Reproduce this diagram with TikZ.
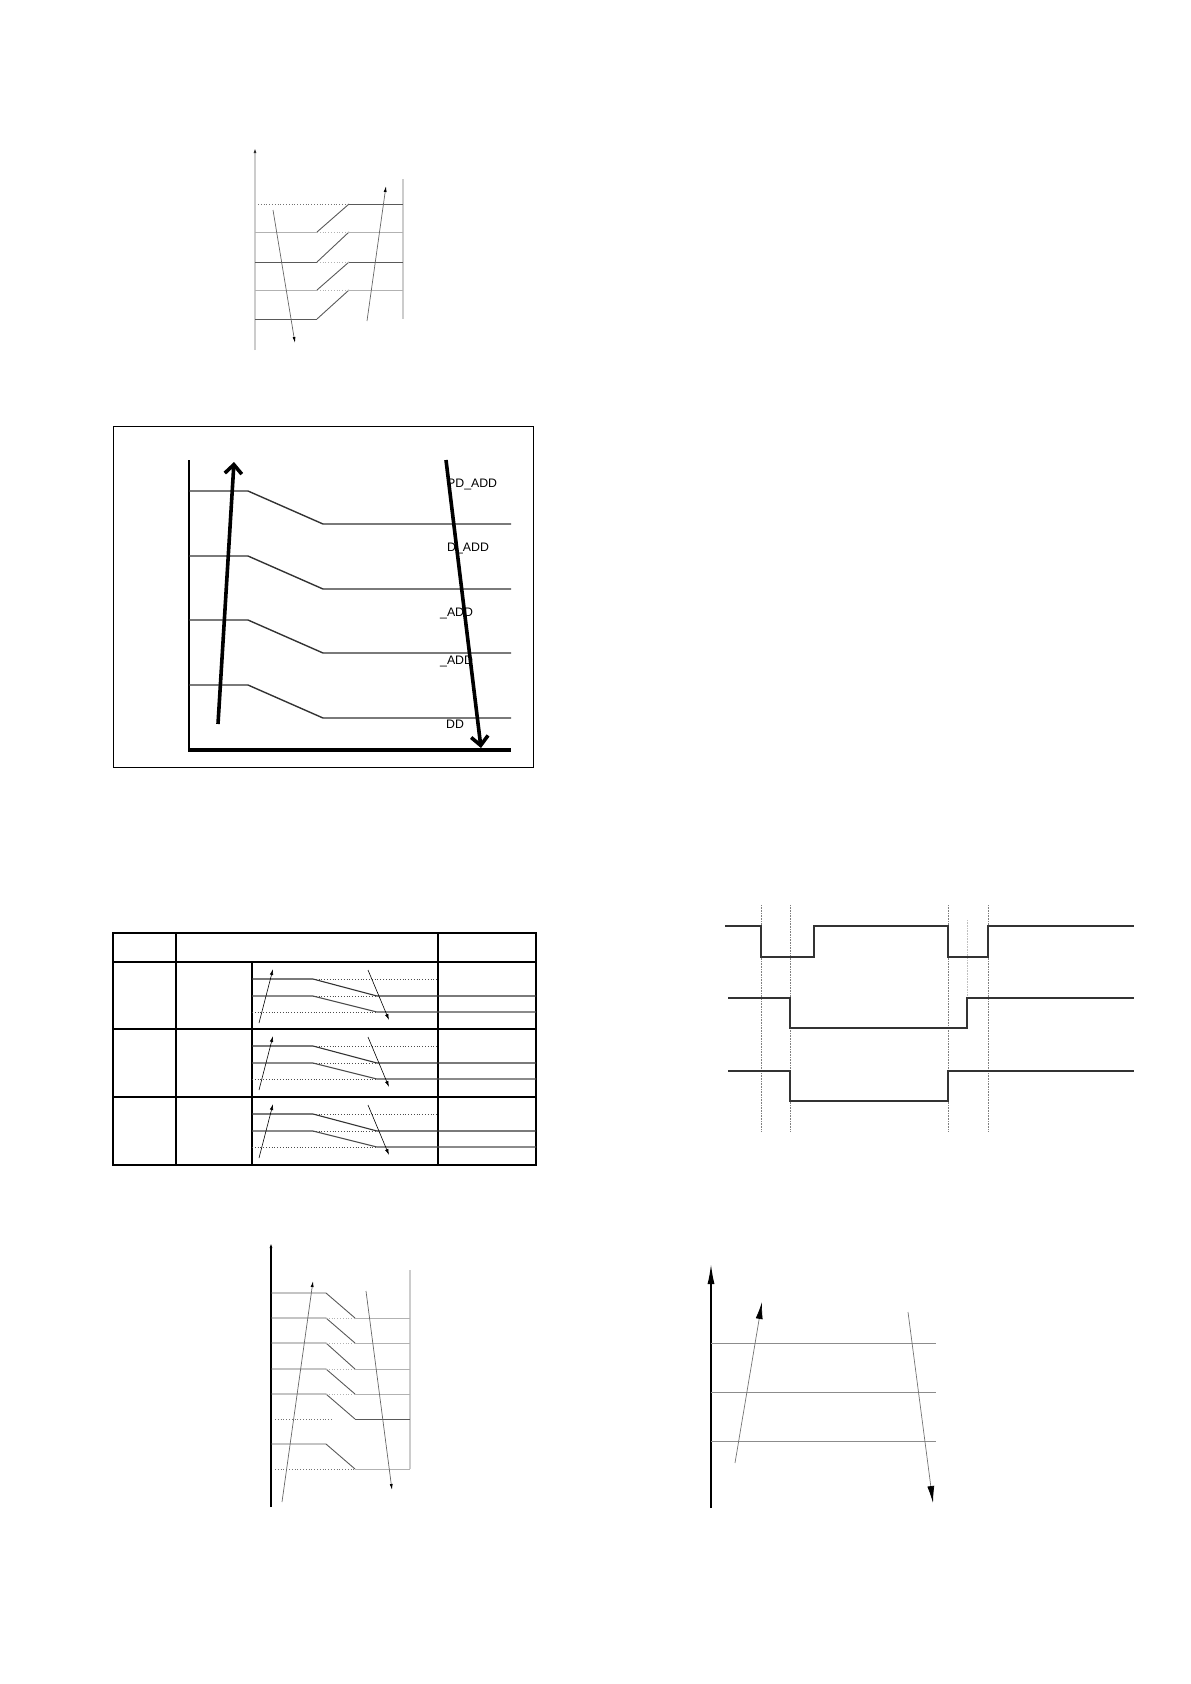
\documentclass[tikz,border=0pt]{standalone}
\usepackage{fontspec}
\setmainfont{Liberation Sans}
\usetikzlibrary{arrows.meta}

\tikzset{
  lightaxis/.style={black!20,line width=1.6pt},
  darkline/.style={black!65,line width=0.9pt},
  paleline/.style={black!30,line width=0.9pt},
  dotline/.style={black!55,line width=0.8pt,dotted},
  thinarrow/.style={black!60,line width=0.7pt,-{Latex[length=6pt,width=3pt,black]}},
  boldarrow/.style={black,line width=3.6pt,-{Straight Barb[length=9pt,width=17pt,line width=3.6pt]}},
  cell/.style={black,line width=1.5pt},
  wave/.style={black!80,line width=1.2pt},
  guide/.style={black!50,line width=0.6pt,densely dotted},
  addlabel/.style={anchor=base west,inner sep=0pt,font=\fontsize{12.3}{14}\selectfont},
}

\begin{document}
\begin{tikzpicture}[x=1pt,y=-1pt]
  %frame
  \draw[draw=none] (0,0) rectangle (1191,1684);

  % Rising steps (top left)
  \draw[lightaxis,-{Latex[length=5pt,width=3pt,black!80]}] (255,350) -- (255,148);
  \draw[lightaxis] (403,179) -- (403,319);
  \draw[dotline] (258,204) -- (349,204);
  \foreach \ya/\yb/\st in {204/232/paleline,232/262/darkline,262/290/paleline,290/319/darkline}{
    \draw[\st] (255,\yb) -- (317,\yb);
    \draw[darkline] (317,\yb) -- (349,\ya);
  }
  \foreach \y/\st in {204/darkline,232/paleline,262/darkline,290/paleline}{
    \draw[\st] (349,\y) -- (403,\y);
  }
  \foreach \y in {232,262,290}{
    \draw[dotline,black!30] (317,\y) -- (349,\y);
  }
  \coordinate (da) at (273,210); \coordinate (db) at (295,343);
  \coordinate (ua) at (367,321); \coordinate (ub) at (386,186);
  \draw[thinarrow] (da) -- (db);
  \draw[thinarrow] (ua) -- (ub);

  % Falling steps with labels (boxed)
  \draw[black,line width=1pt] (113,426) rectangle (533,767);
  \draw[black,line width=2.6pt] (189,460) -- (189,751);
  \draw[black,line width=3.6pt] (188,750) -- (511,750);
  \foreach \y in {491,556,620,685}{
    \draw[black!80,line width=1.4pt] (189,\y) -- (248,\y) -- (323,\y+33) -- (511,\y+33);
  }
  \node[addlabel] (pdadd) at (447,487) {PD\_ADD};
  \node[addlabel] (dadd) at (447,551) {D\_ADD};
  \node[addlabel] (addc) at (440,616) {\_ADD};
  \node[addlabel] (addd) at (440,664) {\_ADD};
  \node[addlabel] (dd) at (446,728) {DD};
  \coordinate (bua) at (218,724); \coordinate (bub) at (234,462);
  \coordinate (bda) at (446,460); \coordinate (bdb) at (481,748);
  \draw[boldarrow] (bua) -- (bub);
  \draw[boldarrow] (bda) -- (bdb);

  % Table
  \draw[cell] (113,933) rectangle (536,1165);
  \draw[cell] (176,933) -- (176,1165);
  \draw[cell] (438,933) -- (438,1165);
  \draw[black,line width=2.2pt] (252,962) -- (252,1165);
  \foreach \r in {962,1029,1097}{
    \draw[cell] (113,\r) -- (536,\r);
  }
  \foreach \r in {962,1029,1097}{
    \draw[black!80,line width=1.1pt] (252,\r+17) -- (313,\r+17) -- (377,\r+34) -- (536,\r+34);
    \draw[black!70,line width=1.1pt] (252,\r+34) -- (313,\r+34) -- (377,\r+50) -- (536,\r+50);
    \draw[dotline,black!70] (313,\r+17) -- (438,\r+17);
    \draw[dotline,black!70] (313,\r+34) -- (377,\r+34);
    \draw[dotline,black!70] (252,\r+50) -- (377,\r+50);
    \draw[black,line width=0.6pt,-{Latex[length=6pt,width=3.5pt]}] (259,\r+61) -- (273,\r+7);
    \draw[black,line width=0.6pt,-{Latex[length=6pt,width=3.5pt]}] (368,\r+8) -- (389,\r+58);
  }

  % Timing
  \foreach \x in {761,790,948,988}{
    \draw[guide] (\x,905) -- (\x,1132);
  }
  \draw[guide,black!25] (967,920) -- (967,998);
  \draw[wave] (725,926) -- (761,926) -- (761,957) -- (814,957) -- (814,926) -- (948,926)
    -- (948,957) -- (988,957) -- (988,926) -- (1134,926);
  \draw[wave] (728,998) -- (790,998) -- (790,1028) -- (967,1028) -- (967,998) -- (1134,998);
  \draw[wave] (728,1071) -- (790,1071) -- (790,1101) -- (948,1101) -- (948,1071) -- (1134,1071);

  % Falling steps (bottom left)
  \draw[black,line width=1.6pt,-{Latex[length=5pt,width=3pt]}] (271,1507) -- (271,1243);
  \draw[lightaxis] (410,1270) -- (410,1469);
  \foreach \ya/\yb/\st in {1293/1318/paleline,1318/1343/paleline,1343/1369/paleline,1369/1394/paleline,1394/1419/darkline,1444/1469/paleline}{
    \draw[darkline] (271,\ya) -- (326,\ya) -- (355,\yb);
    \draw[\st] (355,\yb) -- (410,\yb);
  }
  \foreach \y in {1318,1343,1369,1394}{
    \draw[dotline,black!30] (326,\y) -- (355,\y);
  }
  \draw[dotline] (275,1419) -- (332,1419);
  \draw[dotline] (275,1469) -- (355,1469);
  \coordinate (lua) at (282,1502); \coordinate (lub) at (313,1281);
  \coordinate (lda) at (366,1291); \coordinate (ldb) at (392,1490);
  \draw[thinarrow] (lua) -- (lub);
  \draw[thinarrow] (lda) -- (ldb);

  % Flat levels (bottom right)
  \draw[black,line width=1.4pt,-{Latex[length=20pt,width=7pt]}] (711,1508) -- (711,1264);
  \foreach \y in {1343,1392,1441}{
    \draw[black!45,line width=0.8pt] (711,\y) -- (936,\y);
  }
  \coordinate (rua) at (735,1463); \coordinate (rub) at (762,1302);
  \coordinate (rda) at (908,1312); \coordinate (rdb) at (933,1503);
  \draw[black!55,line width=0.7pt,-{Latex[length=17pt,width=7pt,black]}] (rua) -- (rub);
  \draw[black!55,line width=0.7pt,-{Latex[length=17pt,width=7pt,black]}] (rda) -- (rdb);
\end{tikzpicture}
\end{document}
